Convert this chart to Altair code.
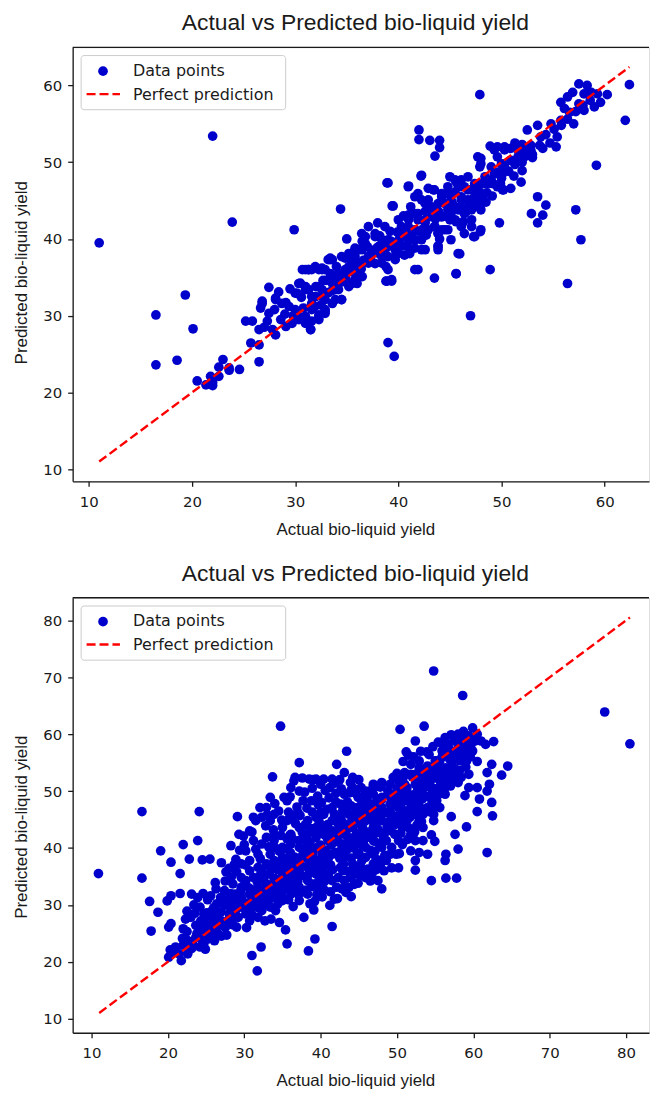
import altair as alt
import pandas as pd

TITLE = "Actual vs Predicted bio-liquid yield"
XLABEL = "Actual bio-liquid yield"
YLABEL = "Predicted bio-liquid yield"
LEGEND_LABELS = ["Data points", "Perfect prediction"]

top_ticks = [10, 20, 30, 40, 50, 60]
bottom_ticks = [10, 20, 30, 40, 50, 60, 70, 80]

# perfect-prediction line end points (min / max of actual values)
top_line = [11.0, 62.4]
bottom_line = [11.0, 80.5]

# (actual, predicted)
top_points = [
    (11.0, 39.5), (16.5, 30.1), (16.5, 23.6), (18.55, 24.2), (19.35, 32.7), (20.1, 28.3),
    (22.0, 53.4), (23.9, 42.2), (29.9, 41.2), (47.9, 58.8), (39.0, 26.5), (39.6, 24.7),
    (47.0, 30.0), (48.9, 36.0), (56.4, 34.2), (57.7, 39.9), (57.2, 43.8), (59.2, 49.6),
    (62.0, 55.45), (62.4, 60.1), (60.25, 58.8), (34.4, 43.9), (35.0, 40.0), (38.9, 47.3),
    (43.5, 34.9), (45.6, 35.45), (41.9, 36.0), (45.8, 38.1), (26.5, 24.0),
    (20.5, 21.5), (21.35, 21.0), (21.8, 22.1), (22.6, 23.3), (23.0, 24.3), (23.6, 22.9),
    (24.6, 23.0), (22.0, 20.9), (22.0, 21.3), (22.6, 22.1), (23.6, 23.2),
    (25.7, 26.45), (26.5, 26.2), (25.2, 29.3), (25.85, 29.3), (26.5, 28.2), (26.65, 31.0),
    (26.8, 31.6), (27.45, 33.7), (27.45, 30.3), (27.3, 29.3), (28.1, 27.5), (28.1, 32.1),
    (28.7, 31.6), (29.4, 31.2), (29.7, 29.0), (29.1, 28.6), (27.8, 28.2), (28.6, 29.5),
    (30.35, 29.9), (30.2, 32.9), (30.35, 34.2), (31.0, 36.0), (31.6, 36.0), (32.6, 36.2),
    (31.3, 33.4), (31.6, 31.6), (31.5, 28.2), (32.3, 29.5), (32.9, 30.3), (31.0, 29.0),
    (33.2, 37.3), (33.6, 35.1), (34.2, 33.4), (34.5, 32.1), (34.85, 37.5), (35.8, 37.7),
    (35.5, 34.2), (32.3, 33.8), (32.0, 32.5), (33.9, 32.1), (32.9, 32.1),
    (26.8, 31.9), (28.1, 32.3), (29.1, 31.7), (30.0, 32.95), (30.5, 34.25), (31.3, 36.0),
    (31.95, 36.4), (32.6, 36.0), (33.4, 37.3), (34.5, 37.7), (35.2, 37.7), (36.15, 38.6),
    (36.8, 40.3), (37.75, 40.3), (38.4, 39.9), (36.5, 39.7), (35.8, 38.8), (39.0, 37.7),
    (39.8, 38.1), (40.3, 41.6), (41.0, 42.5), (41.6, 43.3), (42.6, 43.6), (43.5, 41.6),
    (44.2, 41.2), (44.8, 41.2), (45.5, 42.5), (46.1, 41.6), (47.1, 42.5), (48.0, 43.8),
    (48.0, 41.2), (47.4, 40.3), (46.75, 44.2), (46.1, 43.8), (45.1, 43.3), (43.85, 44.6),
    (42.9, 45.1), (43.4, 46.4), (44.2, 45.9), (44.8, 45.9), (45.0, 48.1), (45.6, 47.45),
    (46.4, 46.8), (46.75, 48.1), (47.4, 45.5), (48.0, 45.9), (48.7, 47.2), (49.3, 48.5),
    (50.0, 49.8), (50.3, 51.6), (48.0, 49.8), (47.7, 50.7), (49.3, 51.6), (42.25, 39.9),
    (41.6, 38.8), (42.6, 38.6), (43.85, 40.7), (41.6, 36.0), (40.6, 40.3), (39.7, 38.6),
    (38.4, 36.85), (39.0, 36.0), (38.9, 34.5), (39.35, 34.5), (37.1, 36.85), (36.1, 36.85),
    (35.8, 34.7), (35.2, 34.25), (34.5, 32.1), (33.9, 33.4), (32.9, 30.8), (32.3, 29.9),
    (31.5, 28.2), (31.0, 33.8), (32.0, 33.8), (32.6, 32.5), (36.5, 35.1), (33.4, 35.5),
    (34.2, 35.5), (35.2, 36.4), (37.4, 38.1), (38.1, 39.0), (39.0, 39.0), (40.0, 39.4),
    (41.0, 39.9), (41.6, 41.2), (42.6, 42.1), (43.2, 42.9), (44.2, 42.9), (44.8, 43.8),
    (46.1, 45.1), (46.75, 46.4), (47.4, 47.2), (48.4, 48.1), (49.0, 49.4), (49.6, 50.7),
    (50.3, 49.8), (50.1, 48.5), (49.6, 46.8), (38.0, 42.1), (41.0, 46.9), (42.2, 48.2),
    (39.4, 44.3), (48.9, 52.1), (49.8, 42.1), (50.1, 46.4), (45.6, 35.5), (43.85, 39.0),
    (53.5, 45.5), (54.3, 44.4), (52.9, 43.3), (54.0, 43.1), (53.5, 42.1), (51.9, 47.4),
    (50.2, 46.4), (50.9, 46.6), (55.4, 53.3), (53.8, 53.3), (52.5, 54.2), (53.5, 54.8),
    (54.8, 55.0), (55.75, 55.45), (55.75, 57.8), (56.4, 58.5), (56.9, 59.1), (57.5, 60.2),
    (58.3, 60.0), (58.0, 56.75), (59.0, 57.2), (59.6, 57.8), (58.6, 58.05), (57.0, 55.0),
    (56.6, 56.5), (56.1, 57.0), (58.0, 58.9), (57.5, 57.6), (42.0, 54.2), (42.0, 52.95),
    (43.05, 52.85), (44.0, 52.85), (44.0, 51.9), (43.55, 50.8), (48.0, 50.5), (47.9, 49.4),
    (49.6, 52.0), (50.3, 52.0), (50.9, 51.8), (51.6, 51.55), (52.2, 51.55), (52.85, 51.55),
    (52.5, 50.9), (51.6, 50.7), (50.9, 50.25), (50.3, 49.4), (49.6, 48.7), (49.0, 47.7),
    (48.35, 47.2), (47.9, 47.2), (47.4, 46.4), (47.9, 46.1), (48.2, 45.1), (47.9, 44.2),
    (47.1, 46.4), (52.2, 50.7), (52.85, 52.2), (42.25, 48.3), (39.0, 47.3), (40.96, 46.8),
    (41.9, 45.9), (42.9, 46.6), (43.5, 46.4), (44.2, 45.5), (45.5, 47.7), (46.1, 47.7),
    (46.1, 46.8), (45.5, 46.1), (44.8, 46.8), (45.1, 45.1), (46.1, 45.5), (46.75, 45.1),
    (47.1, 43.8), (46.4, 43.3), (45.8, 43.8), (45.6, 42.25), (44.5, 44.6), (43.2, 44.2),
    (42.6, 44.6), (43.4, 43.3), (44.2, 42.9), (45.0, 42.5), (42.25, 45.1), (41.6, 45.5),
    (39.5, 44.3), (37.1, 41.6), (36.45, 40.7), (37.75, 40.7), (38.7, 41.6), (40.0, 42.5),
    (40.96, 43.1), (41.9, 43.3), (42.6, 42.5), (43.55, 41.6), (43.85, 39.1), (42.7, 40.5),
    (41.6, 39.9), (40.96, 41.6), (40.2, 40.7), (39.0, 39.9), (38.1, 39.0), (36.8, 39.4),
    (36.1, 38.6), (38.7, 38.1), (40.0, 39.2), (41.1, 38.1), (47.3, 40.3), (47.95, 40.95),
    (47.1, 41.6), (46.3, 42.25), (46.4, 40.7), (44.5, 41.2), (45.1, 39.9), (43.85, 40.75),
    (33.4, 37.5), (42.25, 38.6), (43.85, 38.6), (45.95, 38.05),
    (38.8, 34.5), (39.35, 34.7), (38.8, 36.4), (39.7, 37.3), (40.0, 38.1), (40.6, 37.9),
    (38.4, 37.7), (37.75, 36.8), (37.1, 37.7), (36.1, 36.4), (36.0, 34.2), (35.2, 33.8),
    (33.6, 31.6), (32.9, 30.6), (32.3, 30.1), (31.6, 29.3), (31.0, 29.9), (30.35, 29.5),
    (33.6, 34.2), (34.2, 35.1), (34.85, 36.0), (35.5, 37.3), (32.9, 36.0), (32.3, 36.0),
    (31.3, 36.0), (30.7, 36.0), (32.6, 33.4), (31.6, 32.5), (31.0, 33.4), (33.6, 37.3),
    (35.2, 38.1), (36.5, 38.6), (37.75, 38.6),
    (27.0, 28.5), (28.0, 30.8), (29.0, 30.2), (30.0, 30.8), (30.8, 31.0), (31.6, 30.8),
    (32.5, 31.4), (33.2, 33.0), (33.8, 34.2), (34.5, 34.4), (35.0, 35.6), (35.8, 36.3),
    (36.6, 37.2), (37.3, 37.4), (37.9, 38.2), (38.6, 38.9), (39.3, 39.7), (40.1, 40.0),
    (40.8, 40.6), (41.3, 40.4), (42.0, 41.0), (42.9, 41.2), (43.6, 42.6), (44.6, 43.0),
    (45.3, 44.4), (46.0, 44.2), (46.8, 45.0), (47.6, 45.0), (48.6, 46.0), (49.2, 47.2),
    (50.0, 47.9), (50.7, 48.8), (51.3, 49.7), (52.0, 50.0), (53.0, 50.6), (53.7, 52.2),
    (54.3, 53.6), (55.1, 54.3), (55.8, 54.8), (56.4, 55.6), (57.2, 56.6), (57.9, 57.4),
    (58.7, 59.1), (59.3, 58.9), (38.2, 40.4), (39.2, 41.0), (40.5, 43.0), (41.2, 44.2),
    (39.9, 40.9), (40.9, 39.0), (44.0, 40.0), (36.0, 35.5), (34.0, 36.4), (33.0, 34.6),
    (29.5, 33.5), (28.4, 33.1),
    (29.8, 30.0), (30.6, 32.4), (31.9, 31.2), (32.7, 34.6), (33.5, 33.2), (34.9, 34.9),
    (35.6, 35.7), (36.4, 36.1), (37.0, 39.0), (37.9, 38.8), (39.6, 39.4), (40.4, 39.1),
    (41.9, 42.5), (42.4, 41.3), (43.0, 44.0), (43.9, 43.6), (45.2, 44.8), (45.8, 46.9),
    (46.6, 43.6), (47.3, 44.2), (48.5, 44.8), (49.1, 45.6), (49.9, 47.2), (51.2, 48.2),
    (52.0, 48.9), (54.0, 51.8), (54.7, 52.5), (55.3, 52.0), (51.3, 52.5), (52.0, 52.3),
    (53.0, 51.0),
]

# (actual, predicted)
bottom_points = [
    (10.9, 35.5), (16.6, 46.4), (16.6, 34.7), (17.6, 30.6), (17.8, 25.4), (19.05, 39.5),
    (20.4, 37.5), (21.6, 35.5), (22.0, 40.6), (24.1, 46.4), (23.9, 41.3), (22.8, 38.05),
    (24.5, 37.9), (25.5, 38.05), (27.0, 37.4), (18.7, 28.7), (19.9, 30.7), (20.4, 31.6),
    (20.1, 26.1), (20.4, 26.7), (21.6, 32.0), (23.1, 31.9), (23.9, 31.3), (22.3, 27.5),
    (29.1, 45.5), (33.7, 52.5), (34.75, 61.4), (37.2, 55.0), (36.65, 52.4), (36.5, 51.8),
    (42.1, 54.7), (43.4, 57.0), (54.8, 71.1), (58.6, 66.8), (50.4, 60.85), (53.55, 61.4),
    (52.4, 58.8), (51.2, 56.9), (53.9, 56.9), (59.9, 61.1), (62.65, 58.7), (60.5, 55.2),
    (62.4, 54.7), (64.5, 54.4), (63.7, 52.8), (61.8, 53.25), (62.1, 51.2), (61.8, 50.0),
    (60.8, 48.6), (62.4, 48.0), (60.5, 46.4), (62.5, 45.65), (59.1, 43.7), (57.6, 42.4),
    (58.0, 39.8), (61.8, 39.2), (57.1, 45.5), (54.8, 44.8), (54.5, 42.3), (54.95, 41.15),
    (56.4, 38.9), (56.3, 37.8), (54.5, 34.25), (56.4, 34.7), (57.8, 34.7), (52.4, 37.8),
    (52.4, 36.1), (52.9, 39.2), (50.2, 36.5), (50.7, 40.6), (48.0, 32.8), (47.5, 34.25),
    (49.9, 38.9), (44.0, 31.45), (41.5, 26.2), (39.25, 24.0), (38.4, 21.9), (39.1, 29.1),
    (37.8, 27.8), (36.4, 29.7), (35.6, 23.15), (35.4, 25.6), (33.5, 27.5), (32.2, 22.6),
    (31.0, 21.1), (31.7, 18.4), (21.75, 20.2), (20.1, 20.8), (20.3, 22.1), (27.7, 24.7),
    (34.4, 30.2), (34.6, 26.9), (77.2, 63.9), (80.5, 58.3),
    (28.25, 40.4), (29.9, 42.1), (31.2, 45.4), (32.05, 47.1), (33.4, 48.9), (32.9, 47.1),
    (34.5, 46.5), (35.6, 44.8), (35.6, 48.3), (36.1, 50.6), (37.2, 50.0), (37.7, 48.3),
    (38.8, 48.3), (38.5, 52.1), (39.4, 52.1), (40.4, 52.1), (41.5, 52.1), (43.1, 53.25),
    (44.2, 52.4), (44.2, 50.6), (43.1, 49.45), (42.6, 47.7), (41.5, 47.1), (40.4, 45.9),
    (39.4, 45.4), (38.3, 44.8), (37.2, 43.6), (36.1, 42.4), (33.9, 42.4), (32.9, 41.85),
    (31.2, 41.3), (30.2, 39.5), (29.6, 37.2), (30.7, 37.8), (31.8, 38.9), (33.4, 38.9),
    (35.0, 40.1), (36.1, 40.7), (37.2, 41.3), (38.3, 42.4), (39.4, 43.6), (40.4, 43.6),
    (41.5, 44.8), (42.6, 45.4), (43.7, 45.9), (44.8, 47.1), (45.9, 48.3), (46.9, 49.45),
    (45.9, 50.0), (45.3, 50.6), (46.9, 51.2), (48.0, 51.2), (49.1, 51.2), (50.2, 51.8),
    (51.0, 53.25), (51.8, 54.7), (52.9, 55.3), (54.0, 54.1), (55.1, 55.3), (55.9, 57.05),
    (56.7, 58.2), (57.5, 59.1), (58.3, 59.4), (59.4, 59.7), (60.5, 60.0), (61.0, 58.8),
    (61.6, 58.2), (59.7, 58.2), (58.9, 57.05), (57.8, 56.5), (57.2, 55.3), (56.4, 54.1),
    (55.6, 52.95), (56.4, 51.8), (58.0, 51.5), (59.4, 52.95), (59.1, 55.3), (59.4, 50.6),
    (58.9, 49.2), (60.5, 50.6), (56.3, 49.45), (55.2, 48.3), (55.6, 47.1), (54.8, 45.9),
    (54.0, 47.1), (52.9, 48.3), (51.8, 47.1), (52.9, 44.8), (53.4, 43.6), (51.8, 42.4),
    (50.7, 43.6), (50.2, 45.4), (49.1, 44.8), (49.7, 42.4), (48.6, 41.3), (48.0, 40.1),
    (49.1, 38.9), (48.6, 37.8), (47.8, 36.9), (46.7, 35.4), (45.9, 34.8), (45.3, 36.6),
    (45.9, 38.35), (44.8, 38.9), (44.2, 37.2), (44.0, 34.8), (43.7, 33.1), (43.1, 34.25),
    (42.1, 33.1), (41.5, 34.25), (41.0, 35.4), (40.4, 36.6), (39.9, 34.8), (39.9, 32.8),
    (38.8, 33.7), (38.3, 31.9), (37.2, 33.1), (37.2, 30.75), (36.1, 31.9), (35.6, 33.1),
    (35.0, 30.75), (33.9, 31.3), (33.4, 29.6), (32.3, 29.0), (31.8, 27.8), (30.7, 27.2),
    (30.2, 28.4), (31.0, 29.6), (29.6, 29.6), (28.5, 29.0), (28.0, 27.5), (27.4, 26.65),
    (26.4, 26.1), (25.8, 24.9), (25.3, 24.0), (24.7, 23.15), (26.1, 23.7), (24.2, 22.6),
    (23.1, 22.3), (22.6, 23.7), (22.0, 22.9), (20.9, 21.7), (21.5, 21.4), (22.6, 21.4),
    (23.65, 24.3), (24.2, 25.5), (23.65, 26.4), (25.0, 27.2), (26.4, 27.8), (26.9, 28.7),
    (27.4, 29.9), (28.25, 30.45), (28.8, 31.9), (29.6, 33.1), (30.2, 34.25), (31.2, 34.8),
    (32.3, 36.0), (33.4, 36.6), (34.5, 37.2), (35.6, 37.8), (36.65, 38.35), (37.7, 38.9),
    (38.8, 39.5), (39.9, 40.1), (41.0, 41.3), (42.1, 41.85), (43.1, 42.4), (44.2, 43.6),
    (45.3, 44.2), (46.4, 45.4), (47.5, 45.9), (48.0, 47.1), (49.1, 47.7), (49.7, 48.9),
    (50.7, 49.45), (51.3, 50.6), (52.4, 51.2), (52.9, 51.8), (54.0, 52.4), (54.5, 52.95),
    (54.5, 50.6), (53.4, 49.45), (52.4, 49.45), (51.3, 48.3), (50.2, 47.1), (49.1, 46.5),
    (48.0, 44.8), (46.9, 43.6), (45.9, 42.4), (44.8, 41.3), (43.7, 40.7), (42.6, 39.5),
    (41.5, 38.9), (40.4, 38.35), (39.4, 37.8), (38.3, 36.6), (37.2, 36.0), (36.1, 35.4),
    (35.0, 34.8), (33.9, 34.25), (32.9, 33.7), (31.8, 33.1), (30.7, 31.9), (29.6, 31.3),
    (28.5, 30.75), (32.9, 31.3), (31.8, 30.75), (30.7, 30.2), (36.1, 34.25), (38.3, 34.25),
    (39.4, 35.4), (42.6, 36.6), (43.1, 38.35), (45.9, 40.1), (46.9, 41.3), (46.9, 38.9),
    (44.8, 35.4), (46.9, 37.2), (48.6, 42.9), (50.2, 41.3), (51.3, 44.8), (52.4, 45.9),
    (53.4, 45.9), (54.5, 49.45), (55.6, 50.6), (56.7, 52.95), (57.5, 54.1), (58.3, 55.3),
    (58.6, 56.5), (59.9, 57.05), (56.7, 56.5), (55.6, 55.3), (55.1, 54.1), (52.9, 54.1),
    (51.8, 52.95), (50.2, 50.0), (49.1, 49.45), (48.0, 48.9), (46.9, 47.7), (45.9, 46.5),
    (44.8, 45.4), (43.7, 44.2), (42.6, 43.6), (41.5, 43.0), (40.4, 42.4), (39.4, 41.85),
    (38.3, 40.7), (37.2, 40.1), (36.1, 38.9), (35.0, 38.35), (33.9, 37.8), (32.9, 37.2),
    (31.8, 36.6), (30.7, 36.0), (29.6, 34.8), (28.5, 33.7), (27.4, 32.5), (26.9, 31.3),
    (26.4, 30.2), (25.8, 29.0), (24.7, 28.4), (24.2, 29.6), (25.3, 27.2), (29.3, 42.4),
    (30.7, 43.0), (31.5, 44.8), (32.3, 45.4), (33.4, 44.8), (33.9, 45.9), (35.0, 43.6),
    (35.6, 41.6), (33.9, 41.3), (32.3, 40.7), (52.4, 41.3), (53.4, 41.3), (51.8, 39.5),
    (54.0, 38.9),
    (25.0, 25.5), (26.0, 26.8), (27.0, 27.2), (28.0, 28.5), (29.0, 29.3), (30.0, 30.4),
    (31.0, 31.2), (32.0, 32.5), (33.0, 33.1), (34.0, 34.6), (35.0, 35.2), (36.0, 36.4),
    (37.0, 37.3), (38.0, 38.6), (39.0, 39.2), (40.0, 40.5), (41.0, 41.3), (42.0, 42.4),
    (43.0, 43.2), (44.0, 44.5), (45.0, 45.3), (46.0, 46.4), (47.0, 47.2), (48.0, 48.5),
    (49.0, 49.3), (50.0, 50.4), (51.0, 51.2), (52.0, 52.5), (53.0, 53.3), (54.0, 54.4),
    (55.0, 55.3), (56.0, 56.5), (57.0, 57.2), (58.0, 58.3),
    (26.0, 29.5), (28.0, 31.2), (30.0, 33.5), (32.0, 35.1), (34.0, 37.4), (36.0, 39.2),
    (38.0, 41.5), (40.0, 43.2), (42.0, 45.3), (44.0, 47.4), (46.0, 49.2), (48.0, 51.5),
    (50.0, 53.1), (27.0, 24.5), (29.0, 26.1), (31.0, 28.3), (33.0, 30.2), (35.0, 32.4),
    (37.0, 34.1), (39.0, 36.3), (41.0, 38.2), (43.0, 40.4), (45.0, 42.1), (47.0, 44.3),
    (49.0, 46.2), (51.0, 48.4), (53.0, 50.2), (55.0, 52.3), (57.0, 54.1),
    (36.0, 42.3), (38.0, 44.1), (40.0, 46.2), (42.0, 48.1), (44.0, 50.2), (34.0, 40.1),
    (39.0, 33.2), (41.0, 35.1), (43.0, 37.2), (45.0, 39.1), (47.0, 41.2), (49.0, 43.1),
    (51.0, 45.2), (53.0, 47.1),
    (26.5, 25.0), (27.5, 26.0), (28.5, 26.5), (27.2, 30.8), (28.2, 32.0), (29.2, 27.8),
    (29.5, 32.3), (26.0, 28.1), (27.8, 30.1), (29.0, 35.8), (28.3, 34.9),
    (30.3, 26.0), (30.5, 29.0), (30.9, 32.7), (30.2, 37.0), (31.4, 30.4), (31.7, 34.0),
    (31.5, 39.8), (32.2, 31.9), (32.5, 34.6), (32.1, 38.1), (32.7, 27.2), (33.1, 32.0),
    (33.3, 35.4), (33.2, 40.2), (33.8, 43.2), (32.8, 43.9), (31.0, 42.8),
    (34.1, 29.0), (34.4, 33.0), (34.3, 36.2), (34.6, 39.4), (34.8, 42.2), (35.2, 31.0),
    (35.4, 34.0), (35.3, 37.0), (35.5, 39.9), (35.8, 46.3), (36.2, 33.1), (36.5, 36.6),
    (36.4, 41.5), (36.7, 44.3), (36.9, 47.2), (37.1, 31.8), (37.4, 35.1), (37.5, 38.4),
    (37.6, 42.7), (37.3, 45.7),
    (38.1, 32.6), (38.4, 35.4), (38.2, 38.2), (38.6, 41.0), (38.7, 43.4), (38.9, 46.3),
    (39.2, 30.6), (39.5, 33.8), (39.3, 37.1), (39.6, 40.2), (39.8, 44.6), (39.7, 47.6),
    (40.2, 31.4), (40.5, 34.1), (40.3, 37.4), (40.6, 39.6), (40.8, 41.9), (40.9, 44.1),
    (41.2, 29.9), (41.3, 32.3), (41.6, 36.2), (41.4, 40.5), (41.8, 46.0), (41.1, 48.8),
    (40.6, 50.1),
    (42.2, 31.1), (42.3, 34.8), (42.5, 38.2), (42.4, 41.0), (42.8, 44.6), (42.9, 46.6),
    (42.7, 50.4), (43.3, 32.2), (43.6, 35.9), (43.4, 39.6), (43.8, 41.8), (43.5, 48.1),
    (43.9, 51.5), (44.4, 33.6), (44.6, 36.4), (44.3, 40.0), (44.7, 42.6), (44.5, 46.0),
    (44.9, 48.9), (45.2, 35.2), (45.4, 37.8), (45.6, 41.2), (45.5, 43.5), (45.1, 45.9),
    (45.7, 49.3), (45.0, 52.0),
    (46.2, 36.3), (46.5, 39.6), (46.3, 42.8), (46.6, 44.9), (46.4, 47.6), (46.8, 50.4),
    (47.3, 38.0), (47.6, 40.8), (47.2, 42.6), (47.7, 44.9), (47.4, 48.5), (47.8, 50.7),
    (48.3, 36.0), (48.4, 38.7), (48.7, 43.7), (48.5, 46.2), (48.8, 50.0), (49.3, 40.1),
    (49.6, 44.0), (49.4, 45.6), (49.8, 47.8), (49.5, 52.4), (50.3, 39.0), (50.5, 42.6),
    (50.4, 44.8), (50.8, 46.6), (50.6, 48.5), (50.9, 52.6),
    (51.4, 41.5), (51.6, 43.5), (51.5, 46.2), (51.9, 49.3), (51.2, 50.3), (52.3, 42.8),
    (52.6, 44.0), (52.2, 47.2), (52.7, 50.4), (52.5, 53.0), (53.2, 44.6), (53.6, 46.8),
    (53.3, 48.6), (53.8, 50.8), (53.7, 52.6), (54.2, 46.4), (54.6, 48.0), (54.3, 51.5),
    (54.9, 53.8), (55.3, 49.3), (55.7, 51.6), (55.5, 54.0), (55.9, 56.0), (56.2, 50.4),
    (56.6, 53.1), (56.9, 55.6), (57.3, 52.0), (57.6, 56.9), (57.9, 58.5), (58.2, 53.6),
    (58.5, 57.7), (56.0, 58.2),
    (21.0, 22.6), (21.9, 24.1), (22.5, 25.3), (23.3, 23.0), (23.8, 25.0), (24.4, 24.0),
    (24.6, 26.6), (24.9, 22.2), (25.5, 26.2), (25.9, 27.9), (23.0, 27.8), (22.0, 25.8),
    (25.2, 30.9),
    (28.8, 28.0), (29.4, 30.5), (30.6, 33.0), (31.2, 32.2), (31.9, 29.5), (32.6, 30.4),
    (33.3, 31.0), (33.7, 33.0), (34.2, 31.8), (34.9, 33.6), (35.3, 35.9), (35.9, 33.9),
    (36.3, 37.8), (36.8, 35.2), (37.4, 36.9), (37.8, 39.7), (38.5, 37.2), (39.1, 38.2),
    (39.4, 42.6), (40.0, 36.0), (40.2, 38.9), (40.7, 43.0), (41.3, 37.0), (41.7, 42.2),
    (42.0, 39.2), (42.3, 44.2), (42.9, 36.0), (43.3, 40.8), (43.6, 43.4), (44.0, 38.2),
    (44.3, 41.5), (44.6, 44.3), (45.0, 36.8), (45.3, 40.6), (45.8, 44.7), (46.2, 41.9),
    (46.6, 46.0), (47.1, 39.4), (47.5, 43.3), (47.9, 46.5), (48.2, 42.0), (48.9, 44.4),
    (49.3, 48.6), (49.9, 45.6), (50.5, 47.6), (51.0, 44.0), (51.7, 45.4), (52.1, 48.6),
    (52.8, 46.2), (53.5, 51.4), (54.1, 49.0), (54.6, 46.9), (55.0, 50.4), (55.8, 49.6),
    (56.5, 52.4), (57.0, 50.9), (57.7, 53.0), (58.4, 52.4), (59.0, 54.2), (59.6, 56.0),
    (60.2, 58.8), (58.0, 60.0),
    (33.0, 45.8), (34.0, 47.8), (34.9, 44.9), (35.2, 48.9), (36.3, 45.5), (36.0, 49.0),
    (37.0, 46.3), (37.9, 49.8), (38.2, 47.0), (38.9, 50.5), (39.6, 49.1), (40.1, 48.0),
    (40.8, 46.8), (41.2, 50.6), (42.0, 49.6), (42.5, 52.0), (43.2, 46.9), (43.8, 49.7),
    (44.6, 49.6), (45.3, 47.5), (46.1, 48.3), (37.6, 52.3), (39.0, 52.0), (41.9, 51.4),
    (40.0, 51.2),
    (35.8, 30.9), (36.6, 32.5), (37.7, 32.3), (38.6, 30.2), (39.5, 31.8), (40.5, 32.6),
    (41.8, 31.0), (42.8, 32.8), (43.9, 35.0), (44.9, 33.8), (45.6, 35.9), (46.5, 34.2),
    (47.3, 36.2), (48.1, 38.0), (49.3, 36.5),
    (22.5, 28.9), (23.5, 28.5), (24.3, 27.2), (25.1, 28.6), (25.6, 31.6), (26.3, 32.8),
    (26.7, 27.0), (27.5, 34.2), (28.0, 36.4), (28.9, 38.0), (29.4, 39.6), (30.0, 40.6),
    (28.7, 37.1), (27.6, 35.8), (26.2, 33.9), (24.6, 32.0), (23.4, 30.0),
    (50.8, 55.2), (51.5, 56.3), (52.2, 56.0), (53.1, 57.0), (54.2, 56.4), (54.7, 57.8),
    (55.4, 58.6), (56.3, 59.4), (57.1, 59.9), (57.9, 59.0), (59.0, 58.6), (58.7, 60.5),
]

BLUE = "#0000CD"
TEXT = "#1a1a1a"
W = 579
ONE = alt.Data(values=[{"k": 1}])


def panel(points, line_ends, xdom, ydom, xticks, yticks, height, ytitle_y):
    df = pd.DataFrame(points, columns=["actual", "predicted"])
    ldf = pd.DataFrame({"actual": line_ends, "predicted": line_ends})
    xs = alt.Scale(domain=xdom, nice=False, zero=False)
    ys = alt.Scale(domain=ydom, nice=False, zero=False)
    common = dict(
        grid=False, labelFont="DejaVu Sans", labelFontSize=15, labelColor=TEXT,
        tickSize=5, tickWidth=1.3, tickColor=TEXT, domainColor=TEXT, domainWidth=1.3,
        titleFont="Liberation Sans", titleFontSize=17, titleFontWeight="normal",
        titleColor=TEXT, labelFlush=False, labelOverlap=False, titleBaseline="alphabetic",
    )
    xax = alt.Axis(values=xticks, title=XLABEL, labelPadding=8, titleX=284, titleY=53, **common)
    yax = alt.Axis(values=yticks, title=YLABEL, labelPadding=6, titleX=-46.5, titleY=ytitle_y,
                   titleAngle=270, titleAlign="center", **common)

    pts = alt.Chart(df).mark_circle(size=95, color=BLUE, opacity=1).encode(
        x=alt.X("actual:Q", scale=xs, axis=xax),
        y=alt.Y("predicted:Q", scale=ys, axis=yax),
    )
    line = alt.Chart(ldf).mark_line(color="red", strokeDash=[9, 4], strokeWidth=2.4).encode(
        x="actual:Q", y="predicted:Q"
    )
    frame_top = alt.Chart(ONE).mark_rule(color=TEXT, strokeWidth=1.3).encode(
        x=alt.value(0), x2=alt.value(W), y=alt.value(0)
    )
    box = alt.Chart(ONE).mark_rect(fill="white", stroke="#cccccc", strokeWidth=1,
                                   cornerRadius=3).encode(
        x=alt.value(8.5), x2=alt.value(214), y=alt.value(8.3), y2=alt.value(62.7)
    )
    lpt = alt.Chart(ONE).mark_circle(size=95, color=BLUE, opacity=1).encode(
        x=alt.value(30.5), y=alt.value(24)
    )
    lline = alt.Chart(ONE).mark_rule(color="red", strokeDash=[9, 4], strokeWidth=2.4).encode(
        x=alt.value(14), x2=alt.value(47.5), y=alt.value(47)
    )
    t1 = alt.Chart(ONE).mark_text(align="left", baseline="alphabetic", font="DejaVu Sans",
                                  fontSize=16, color=TEXT).encode(
        x=alt.value(60.5), y=alt.value(28.5), text=alt.value(LEGEND_LABELS[0])
    )
    t2 = alt.Chart(ONE).mark_text(align="left", baseline="alphabetic", font="DejaVu Sans",
                                  fontSize=16, color=TEXT).encode(
        x=alt.value(60.5), y=alt.value(52.5), text=alt.value(LEGEND_LABELS[1])
    )
    return alt.layer(pts, line, box, lpt, lline, t1, t2, frame_top).properties(
        width=W, height=height,
        title=alt.TitleParams(TITLE, font="Liberation Sans", fontSize=23, fontWeight="normal",
                              color=TEXT, anchor="middle", dx=-5.5, offset=-6.5,
                              baseline="alphabetic"),
    )


top = panel(top_points, top_line, [8.43, 64.3], [8.43, 64.97], top_ticks, top_ticks, 436, 226)
bottom = panel(bottom_points, bottom_line, [7.525, 83.0], [7.525, 83.975], bottom_ticks,
               bottom_ticks, 437, 230)

chart = alt.vconcat(top, bottom, spacing=24).properties(
    padding={"left": 12, "top": 9, "right": 0, "bottom": 0}
).configure_view(stroke=None).configure(background="white")

chart.save("out.html", embed_options={"renderer": "svg", "actions": False})
